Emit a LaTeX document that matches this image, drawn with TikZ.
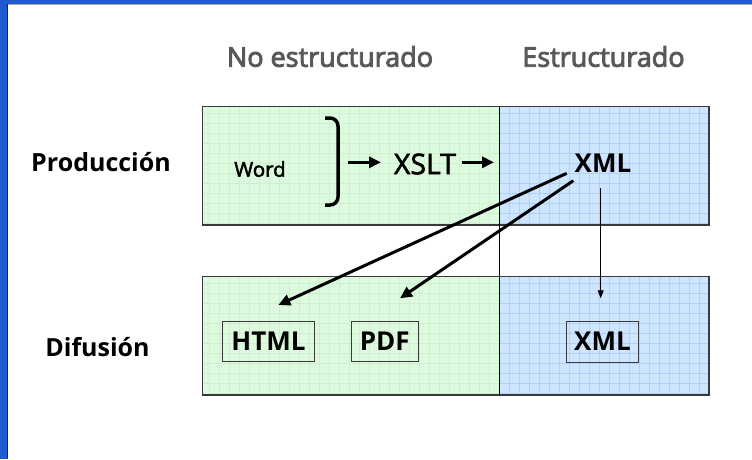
\documentclass[tikz,border=0pt]{standalone}
\usepackage{fontspec}
\setmainfont{Open Sans}
\newcommand\thickish[2]{\special{pdf:literal direct 2 Tr #1 w}#2\special{pdf:literal direct 0 Tr}}
\usetikzlibrary{arrows.meta}
\definecolor{framebl}{HTML}{1F5BCC}
\definecolor{grnfill}{HTML}{DEFADE}
\definecolor{grngrid}{HTML}{CBF2CB}
\definecolor{blufill}{HTML}{CDE5FF}
\definecolor{blugrid}{HTML}{AFD1F8}
\definecolor{hdgray}{HTML}{595959}
\definecolor{edge}{HTML}{3A3A3A}
\tikzset{
  hdtext/.style={text=hdgray,font=\fontsize{27}{30}\selectfont,inner sep=0pt,anchor=base},
  rowtext/.style={font=\bfseries\fontsize{25}{30}\selectfont,inner sep=0pt},
  boxlabel/.style={draw=edge,line width=0.9pt,font=\bfseries\fontsize{26}{30}\selectfont,inner sep=0pt,minimum height=40pt},
  thickarrow/.style={line width=3pt,-{Triangle[length=12pt,width=11pt]}},
  thinarrow/.style={line width=0.8pt,-{Triangle[length=8pt,width=6pt]}},
}
\begin{document}
\begin{tikzpicture}[x=1pt,y=-1pt]
\useasboundingbox (0,0) rectangle (752,459);
\fill[white] (0,0) rectangle (752,459);
% frame
\fill[framebl] (0,0) rectangle (752,3.5);
\fill[framebl] (0,0) rectangle (7,459);
\draw[gray!70,line width=0.8pt] (7.5,4) -- (752,4);
\draw[black!85,line width=1pt] (7.5,3.5) -- (7.5,459);
% regions
\foreach \ya/\yb in {106.5/225,276.5/395}{
  \fill[grnfill] (202.5,\ya) rectangle (499,\yb);
  \fill[blufill] (499,\ya) rectangle (709,\yb);
  \begin{scope}
    \clip (202.5,\ya) rectangle (499,\yb);
    \foreach \x in {209,219,...,499} \draw[grngrid,line width=0.6pt] (\x,\ya) -- (\x,\yb);
    \foreach \y in {0,10,...,120} \draw[grngrid,line width=0.6pt] (202.5,\ya+\y+7) -- (499,\ya+\y+7);
  \end{scope}
  \begin{scope}
    \clip (499,\ya) rectangle (709,\yb);
    \foreach \x in {509,519,...,709} \draw[blugrid,line width=0.6pt] (\x,\ya) -- (\x,\yb);
    \foreach \y in {0,10,...,120} \draw[blugrid,line width=0.6pt] (499,\ya+\y+7) -- (709,\ya+\y+7);
  \end{scope}
  \draw[edge,line width=1.5pt] (202.5,\ya) rectangle (709,\yb);
}
\draw[black,line width=0.8pt] (499,106.5) -- (499,395);
% headers
\node[hdtext] (hno) at (330,66.7) {\thickish{0.9}{No estructurado}};
\node[hdtext] (hes) at (603.5,66.7) {\thickish{0.9}{Estructurado}};
\node[rowtext] (prod) at (101,162) {Producción};
\node[rowtext] (dif) at (97.5,347) {Difusión};
% production row
\node[inner sep=0pt,font=\fontsize{20.5}{24}\selectfont] (word) at (260,169) {\thickish{0.5}{Word}};
\draw[line width=3.5pt,rounded corners=8pt] (325,118) -- (338,118) -- (338,205) -- (325,205);
\coordinate (br) at (347.7,162.3);
\coordinate (bra) at (381,162.3);
\node[inner sep=0pt,font=\fontsize{28.5}{32}\selectfont] (xslt) at (425,164) {\thickish{0.6}{XSLT}};
\node[inner sep=0pt,font=\bfseries\fontsize{26}{30}\selectfont] (xmlt) at (603,163) {XML};
\coordinate (xa) at (461.7,162.3);
\coordinate (xb) at (494,162.3);
\draw[thickarrow] (br) -- (bra);
\draw[thickarrow] (xa) -- (xb);
% diffusion row
\node[boxlabel,minimum width=91.6pt] (html) at (268.5,341.7) {HTML};
\node[boxlabel,minimum width=66.7pt] (pdf) at (384.7,341.7) {PDF};
\node[boxlabel,minimum width=71.6pt,minimum height=41pt] (xmlb) at (602.5,341.7) {XML};
\coordinate (s1) at (566.7,173.3);
\coordinate (s2) at (573.3,180.7);
\coordinate (s3) at (600.7,188.3);
\coordinate (e1) at (278.3,305);
\coordinate (e2) at (400,298.3);
\coordinate (e3) at (600.7,298.3);
\draw[thickarrow] (s1) -- (e1);
\draw[thickarrow] (s2) -- (e2);
\draw[thinarrow] (s3) -- (e3);
\end{tikzpicture}
\end{document}
